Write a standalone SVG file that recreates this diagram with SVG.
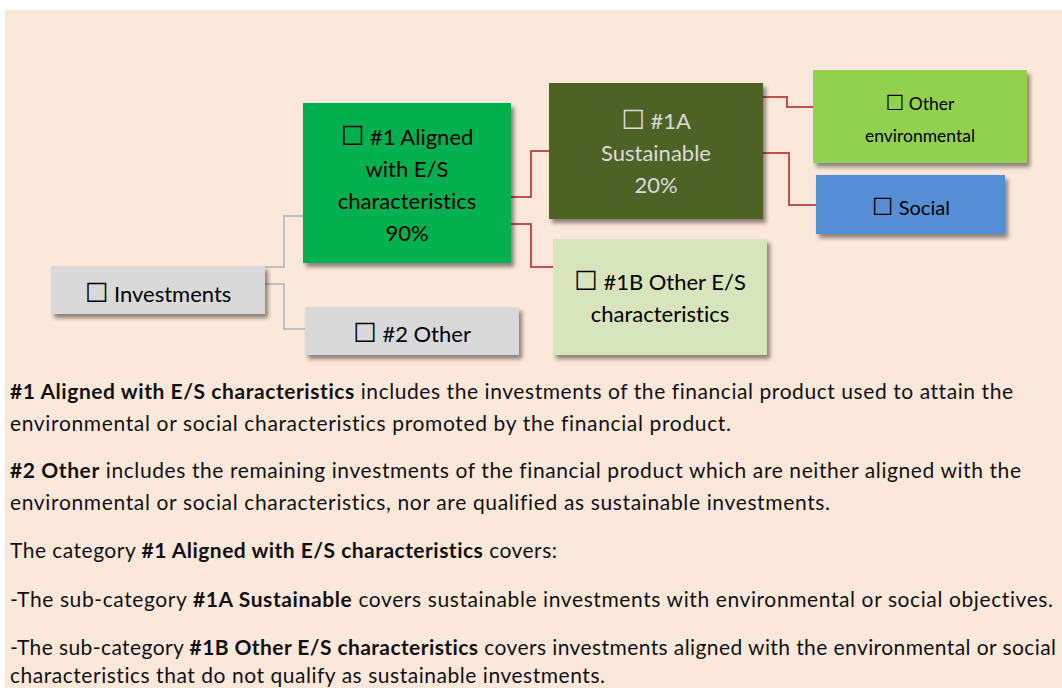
<svg xmlns="http://www.w3.org/2000/svg" width="1062" height="688" viewBox="0 0 1062 688">
<defs>
<style>
text{font-variant-ligatures:none;font-feature-settings:"liga" 0,"clig" 0,"dlig" 0}
.t{font-family:Lato,"Liberation Sans",sans-serif;fill:#111}
.b{font-weight:bold}
.box{font-family:Lato,"DejaVu Sans",sans-serif;font-size:22px;text-anchor:middle;fill:#000}
.cb{font-family:"DejaVu Sans",sans-serif;font-size:1.2em}
.gc{fill:none;stroke:#BFBFBF;stroke-width:2}
.rc{fill:none;stroke:#C0504D;stroke-width:2}
</style>
<filter id="sh" x="-10%" y="-10%" width="130%" height="140%">
<feDropShadow dx="3" dy="4" stdDeviation="2" flood-color="#000" flood-opacity="0.45"/>
</filter>
</defs>
<rect x="0" y="0" width="1062" height="688" fill="#fff"/>
<rect x="5" y="10" width="1057" height="678" fill="#FCE8DA"/>

<g id="connectors">
<path class="gc" d="M265,267 H284 V216 H303"/>
<path class="gc" d="M265,284 H284 V329 H305"/>
<path class="rc" d="M511,197 H531 V151 H549"/>
<path class="rc" d="M511,224 H531 V267 H553"/>
<path class="rc" d="M763,97 H787 V107 H813"/>
<path class="rc" d="M763,153 H789 V205 H816"/>
</g>

<g id="investments">
<rect x="51" y="266" width="214" height="48" fill="#D9D9D9" filter="url(#sh)"/>
<text class="box" x="158" y="302"><tspan class="cb">☐</tspan> Investments</text>
</g>
<g id="aligned">
<rect x="303" y="103" width="208" height="160" fill="#00B050" filter="url(#sh)"/>
<text class="box" x="407" y="145"><tspan class="cb">☐</tspan> #1 Aligned</text>
<text class="box" x="407" y="177">with E/S</text>
<text class="box" x="407" y="209">characteristics</text>
<text class="box" x="407" y="241">90%</text>
</g>
<g id="other2">
<rect x="305" y="307" width="214" height="48" fill="#D9D9D9" filter="url(#sh)"/>
<text class="box" x="412" y="342"><tspan class="cb">☐</tspan> #2 Other</text>
</g>
<g id="sustainable">
<rect x="549" y="83" width="214" height="136" fill="#4F6228" filter="url(#sh)"/>
<text class="box" x="656" y="129" style="fill:#DADADA"><tspan class="cb">☐</tspan> #1A</text>
<text class="box" x="656" y="161" style="fill:#DADADA">Sustainable</text>
<text class="box" x="656" y="193" style="fill:#DADADA">20%</text>
</g>
<g id="otherES">
<rect x="553" y="239" width="214" height="116" fill="#D8E4BC" filter="url(#sh)"/>
<text class="box" x="660" y="290"><tspan class="cb">☐</tspan> #1B Other E/S</text>
<text class="box" x="660" y="322">characteristics</text>
</g>
<g id="otherEnv">
<rect x="813" y="70" width="214" height="93" fill="#92D050" filter="url(#sh)"/>
<text class="box" x="920" y="110" style="font-size:17.5px"><tspan class="cb">☐</tspan> Other</text>
<text class="box" x="920" y="142" style="font-size:17.5px">environmental</text>
</g>
<g id="social">
<rect x="816" y="175" width="189" height="59" fill="#558ED5" filter="url(#sh)"/>
<text class="box" x="911" y="215" style="font-size:20px"><tspan class="cb">☐</tspan> Social</text>
</g>

<g id="notes" class="t" font-size="21">
<text x="10" y="399" textLength="1003" lengthAdjust="spacing"><tspan class="b">#1 Aligned with E/S characteristics</tspan> includes the investments of the financial product used to attain the</text>
<text x="10" y="431" textLength="721" lengthAdjust="spacing">environmental or social characteristics promoted by the financial product.</text>
<text x="10" y="478" textLength="1011" lengthAdjust="spacing"><tspan class="b">#2 Other</tspan> includes the remaining investments of the financial product which are neither aligned with the</text>
<text x="10" y="510" textLength="820" lengthAdjust="spacing">environmental or social characteristics, nor are qualified as sustainable investments.</text>
<text x="10" y="558" textLength="547" lengthAdjust="spacing">The category <tspan class="b">#1 Aligned with E/S characteristics</tspan> covers:</text>
<text x="10" y="607" textLength="1043" lengthAdjust="spacing">-The sub-category <tspan class="b">#1A Sustainable</tspan> covers sustainable investments with environmental or social objectives.</text>
<text x="10" y="655" textLength="1046" lengthAdjust="spacing">-The sub-category <tspan class="b">#1B Other E/S characteristics</tspan> covers investments aligned with the environmental or social</text>
<text x="10" y="683" textLength="595" lengthAdjust="spacing">characteristics that do not qualify as sustainable investments.</text>
</g>
</svg>
